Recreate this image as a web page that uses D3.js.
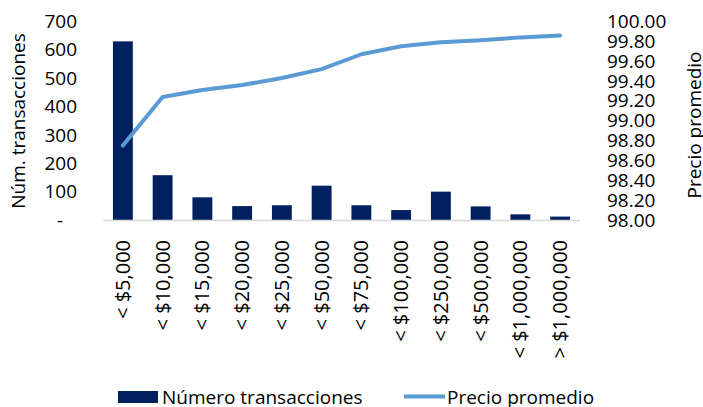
<!DOCTYPE html>
<html><head><meta charset="utf-8">
<script src="https://cdn.jsdelivr.net/npm/d3@7"></script>
<style>
html,body{margin:0;padding:0;background:#fff;}
svg{display:block;font-family:"Open Sans",sans-serif;}
</style></head>
<body><svg id="c" width="703" height="407"></svg>
<script>
const categories = ["< $5,000","< $10,000","< $15,000","< $20,000","< $25,000","< $50,000","< $75,000","< $100,000","< $250,000","< $500,000","< $1,000,000","> $1,000,000"];
const numTransacciones = [630,158,80,49,52,121,52,35,100,48,20,12];
const precioPromedio = [98.75,99.24,99.31,99.36,99.43,99.52,99.67,99.75,99.79,99.81,99.84,99.86];
const leftTicks = [0,100,200,300,400,500,600,700];
const rightTicks = [98.0,98.2,98.4,98.6,98.8,99.0,99.2,99.4,99.6,99.8,100.0];

(function(){
const svg = d3.select("#c");
const pTop = 21.5, pBottom = 220, pLeft = 103, pRight = 580;
const fs = 19;

const x = d3.scaleBand().domain(categories).range([pLeft,pRight]).paddingInner(0.5).paddingOuter(0.25);
const yL = d3.scaleLinear().domain([0,700]).range([pBottom,pTop]);
const yR = d3.scaleLinear().domain([98,100]).range([pBottom,pTop]);

svg.append("g").selectAll("rect").data(categories).join("rect")
  .attr("x", d=>x(d)).attr("width", x.bandwidth())
  .attr("y", (d,i)=>yL(numTransacciones[i]))
  .attr("height", (d,i)=>pBottom - yL(numTransacciones[i]))
  .attr("fill","#002060");

svg.append("line").attr("x1",pLeft).attr("x2",pRight).attr("y1",pBottom+0.5).attr("y2",pBottom+0.5)
  .attr("stroke","#d9d9d9").attr("stroke-width",1.5);

const line = d3.line().x((d,i)=>x(categories[i])+x.bandwidth()/2).y(d=>yR(d));
svg.append("path").datum(precioPromedio).attr("d",line)
  .attr("fill","none").attr("stroke","#5b9bd5").attr("stroke-width",4).attr("stroke-linecap","round").attr("stroke-linejoin","round");

const la = svg.append("g").attr("transform",`translate(${pLeft},0)`)
  .call(d3.axisLeft(yL).tickValues(leftTicks).tickSize(0).tickPadding(26)
    .tickFormat(d=> d===0 ? "-" : d3.format("d")(d)));
la.select(".domain").remove();
la.selectAll("text").attr("font-size",fs).attr("font-family","Open Sans").attr("fill","#000");
la.selectAll(".tick").filter(d=>d===0).select("text").attr("dx",-14);

const ra = svg.append("g").attr("transform",`translate(${pRight},0)`)
  .call(d3.axisRight(yR).tickValues(rightTicks).tickSize(0).tickPadding(27).tickFormat(d3.format(".2f")));
ra.select(".domain").remove();
ra.selectAll("text").attr("font-size",fs).attr("font-family","Open Sans").attr("fill","#000");

const xa = svg.append("g").attr("transform",`translate(0,${pBottom})`)
  .call(d3.axisBottom(x).tickSize(0));
xa.select(".domain").remove();
xa.selectAll("text").attr("font-size",20).attr("font-family","Open Sans").attr("fill","#000")
  .attr("transform","rotate(-90)").attr("text-anchor","end")
  .attr("x",-20).attr("y",0).attr("dy","0.35em");

svg.append("text").attr("transform","translate(18,121) rotate(-90)")
  .attr("text-anchor","middle").attr("dy","0.35em").attr("font-size",fs).text("Núm. transacciones");
svg.append("text").attr("transform","translate(694,125) rotate(-90)")
  .attr("text-anchor","middle").attr("dy","0.35em").attr("font-size",fs).text("Precio promedio");

const lg = svg.append("g");
lg.append("rect").attr("x",118).attr("y",391).attr("width",40).attr("height",12).attr("fill","#002060");
lg.append("text").attr("x",162).attr("y",397).attr("dy","0.35em").attr("font-size",fs).text("Número transacciones");
lg.append("line").attr("x1",404).attr("x2",445).attr("y1",396.5).attr("y2",396.5).attr("stroke","#5b9bd5").attr("stroke-width",4);
lg.append("text").attr("x",447).attr("y",397).attr("dy","0.35em").attr("font-size",fs).text("Precio promedio");
})();
</script></body></html>
